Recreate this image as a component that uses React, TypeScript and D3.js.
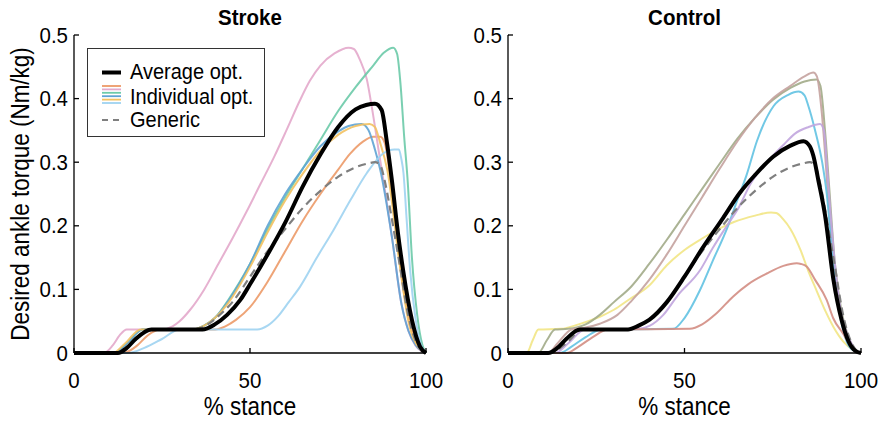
import React from 'react';
import * as d3 from 'd3';

type Pt = [number, number];

const STANCE_TICKS = [0, 50, 100];
const TORQUE_TICKS = [0, 0.1, 0.2, 0.3, 0.4, 0.5];
const TORQUE_TICK_LABELS = ['0', '0.1', '0.2', '0.3', '0.4', '0.5'];
const PANEL_TITLES = ['Stroke', 'Control'];
const LEGEND_LABELS = ['Average opt.', 'Individual opt.', 'Generic'];
const X_LABEL = '% stance';
const Y_LABEL = 'Desired ankle torque (Nm/kg)';

// Generic profile (same in both panels)
const genericProfile: Pt[] = [[0,0],[12,0],[17,0.018],[21,0.037],[34,0.037],[38,0.045],[41,0.058],[45,0.08],[50,0.12],[55,0.16],[60,0.195],[65,0.228],[70,0.255],[75,0.277],[80,0.292],[83.5,0.298],[85.5,0.3],[87,0.295],[88.5,0.265],[90,0.22],[92.5,0.14],[95,0.058],[97,0.02],[98.5,0.005],[100,0]];

// Stroke panel
const strokeAverage: Pt[] = [[0,0],[12.5,0],[15,0.008],[17.5,0.022],[22,0.037],[36.5,0.037],[40,0.045],[43.5,0.06],[47.2,0.083],[50,0.108],[55,0.155],[60,0.205],[65,0.262],[70,0.312],[75,0.355],[80,0.383],[83,0.39],[85.5,0.392],[87.4,0.382],[88.8,0.335],[90.3,0.272],[92,0.19],[93.5,0.13],[96,0.052],[98.3,0.01],[100,0]];
const strokeOrange: Pt[] = [[0,0],[14,0],[18,0.012],[21,0.028],[24.4,0.037],[40,0.037],[43,0.042],[46,0.052],[50,0.072],[55,0.112],[60,0.16],[65,0.208],[70,0.25],[72.7,0.271],[75,0.288],[78.4,0.313],[82,0.332],[85,0.34],[87,0.34],[88.3,0.33],[89.5,0.29],[91,0.22],[92.5,0.145],[94,0.085],[96,0.035],[98,0.008],[100,0]];
const strokePink: Pt[] = [[0,0],[8.5,0],[11,0.012],[13,0.028],[15,0.037],[25,0.037],[28,0.042],[30,0.05],[33,0.068],[37,0.1],[41,0.14],[45,0.18],[49,0.222],[53,0.266],[57,0.31],[60.5,0.352],[64,0.395],[67,0.428],[70,0.452],[74,0.471],[78,0.48],[79.5,0.478],[81.3,0.46],[83.2,0.43],[84.6,0.387],[86.5,0.32],[88.5,0.25],[90.3,0.183],[93,0.078],[95,0.035],[97,0.012],[100,0]];
const strokeGreen: Pt[] = [[0,0],[11.5,0],[15,0.015],[19.5,0.037],[33.8,0.037],[37,0.043],[40,0.055],[44,0.085],[50,0.14],[55,0.195],[60,0.245],[65,0.29],[70,0.335],[75,0.38],[80,0.418],[85,0.452],[88,0.472],[90.7,0.48],[91.8,0.47],[92.8,0.42],[93.8,0.34],[94.8,0.27],[96,0.15],[97.5,0.06],[99,0.012],[100,0]];
const strokeBlue: Pt[] = [[0,0],[11.5,0],[15,0.015],[19.5,0.037],[33.8,0.037],[37,0.043],[40,0.055],[44,0.083],[50,0.14],[55,0.2],[60,0.25],[65,0.29],[70,0.325],[75,0.348],[78,0.357],[81.7,0.36],[83.6,0.351],[85.5,0.32],[87,0.288],[90.3,0.183],[93,0.078],[95,0.035],[97,0.013],[100,0]];
const strokeYellow: Pt[] = [[0,0],[11,0],[14.5,0.015],[19,0.037],[33.5,0.037],[37,0.043],[40,0.055],[44,0.08],[50,0.135],[55,0.19],[60,0.24],[65,0.282],[70,0.318],[75,0.343],[80,0.357],[84,0.36],[85.5,0.355],[87,0.33],[89,0.288],[92.5,0.14],[95,0.05],[98,0.008],[100,0]];
const strokeLightBlue: Pt[] = [[0,0],[15.3,0],[20,0.008],[25,0.022],[30,0.037],[52,0.037],[55,0.043],[58,0.058],[61,0.08],[64.2,0.104],[69,0.15],[73.7,0.193],[78.5,0.24],[83.2,0.283],[87.9,0.314],[91,0.32],[92.3,0.32],[93,0.305],[93.6,0.283],[94.5,0.21],[95.5,0.13],[97,0.055],[98.5,0.014],[100,0]];

// Control panel
const controlAverage: Pt[] = [[0,0],[11.4,0],[14,0.008],[16.5,0.022],[20.4,0.037],[34,0.037],[37,0.043],[40,0.052],[45,0.08],[50,0.12],[55,0.164],[61,0.213],[65.7,0.252],[70,0.28],[75.2,0.309],[80,0.326],[83.7,0.333],[85.5,0.325],[86.5,0.31],[87.9,0.272],[89.8,0.217],[92.2,0.115],[94.5,0.052],[96.5,0.018],[98.5,0.003],[100,0]];
const controlYellow: Pt[] = [[0,0],[5.3,0],[7,0.02],[8.6,0.037],[15,0.038],[20,0.045],[26,0.057],[30,0.068],[34,0.083],[40,0.106],[45,0.138],[50,0.162],[55,0.18],[60,0.196],[64,0.206],[70,0.216],[74.5,0.221],[76,0.22],[78,0.21],[80,0.195],[83,0.16],[85,0.13],[87.5,0.097],[90,0.065],[92.2,0.041],[95,0.018],[97.8,0.005],[100,0]];
const controlOlive: Pt[] = [[0,0],[8.6,0],[11,0.02],[13.3,0.037],[17,0.038],[22,0.045],[26,0.06],[30,0.08],[35,0.105],[40,0.14],[45,0.178],[50,0.218],[55,0.258],[60,0.298],[65,0.337],[70,0.37],[75,0.398],[80,0.417],[84,0.427],[87.4,0.43],[88.5,0.42],[89.8,0.35],[91,0.26],[92.6,0.141],[94.5,0.065],[96.4,0.026],[98.5,0.005],[100,0]];
const controlBrown: Pt[] = [[0,0],[11.4,0],[14,0.015],[18,0.037],[22,0.04],[26,0.046],[31,0.06],[35,0.082],[40,0.115],[45,0.155],[50,0.2],[55,0.245],[60,0.29],[65,0.333],[70,0.37],[75,0.4],[80,0.42],[84,0.435],[86.5,0.441],[87.5,0.435],[88.9,0.377],[90,0.3],[91.2,0.2],[92.6,0.12],[94.5,0.055],[96.5,0.022],[98.5,0.004],[100,0]];
const controlCyan: Pt[] = [[0,0],[14.7,0],[18,0.01],[22,0.025],[26.5,0.037],[46.8,0.038],[50,0.055],[54.4,0.099],[58,0.145],[62,0.195],[64.8,0.238],[67.6,0.28],[70.5,0.333],[75.2,0.388],[79.4,0.406],[82.3,0.411],[84,0.405],[85,0.39],[87,0.35],[89,0.3],[90.3,0.25],[91.5,0.18],[93,0.1],[95,0.035],[97,0.008],[100,0]];
const controlPurple: Pt[] = [[0,0],[13.3,0],[17,0.015],[21.8,0.037],[37,0.038],[40.2,0.043],[44,0.06],[48,0.09],[54.4,0.13],[58,0.165],[62,0.2],[65.5,0.23],[68.6,0.265],[72,0.292],[75,0.31],[78,0.327],[81.3,0.345],[85,0.355],[88.4,0.36],[89.5,0.35],[90.3,0.298],[91.5,0.21],[92.6,0.141],[94.5,0.06],[96.4,0.026],[98.5,0.005],[100,0]];
const controlRed: Pt[] = [[0,0],[16.6,0],[20,0.01],[24,0.025],[28.3,0.037],[51.5,0.038],[55,0.045],[59,0.062],[63.8,0.089],[68,0.108],[73.3,0.125],[78,0.137],[81.8,0.141],[83,0.14],[84.6,0.136],[87,0.115],[90.3,0.083],[92.1,0.055],[95,0.03],[97,0.012],[98.8,0.003],[100,0]];

const STROKE_COLORS = ['#EC9A68', '#E3A9CB', '#6CCAA9', '#5EA3D4', '#F2C160', '#9FD3F1'];
const CONTROL_COLORS = ['#F2E685', '#A2AB88', '#C4A29E', '#62C2E2', '#C1A5DE', '#D38D83'];

const strokeIndividuals = [strokeOrange, strokePink, strokeGreen, strokeBlue, strokeYellow, strokeLightBlue];
const controlIndividuals = [controlYellow, controlOlive, controlBrown, controlCyan, controlPurple, controlRed];

const FONT = '"Liberation Sans", Arial, Helvetica, sans-serif';
const SY = 1.12;

const W = 882, H = 421;
const TOP = 35, BOTTOM = 353;

function Txt({ x, y, size, anchor = 'start', bold = false, rotate = 0, dy = 0, children }: any) {
  return (
    <text
      transform={`translate(${x},${y}) rotate(${rotate}) scale(1,${SY})`}
      x={0}
      y={dy}
      textAnchor={anchor}
      fontSize={size}
      fontWeight={bold ? 'bold' : 'normal'}
      fontFamily={FONT}
      fill="#000"
    >
      {children}
    </text>
  );
}

function Panel({ x0, x1, title, individuals, colors, average, legend }: any) {
  const x = d3.scaleLinear().domain([0, 100]).range([x0, x1]);
  const y = d3.scaleLinear().domain([0, 0.5]).range([BOTTOM, TOP]);
  const line = d3.line<Pt>().x(d => x(d[0])).y(d => y(d[1])).curve(d3.curveMonotoneX);
  const cx = (x0 + x1) / 2;
  return (
    <g>
      {individuals.map((s: Pt[], i: number) => (
        <path key={i} d={line(s) || ''} fill="none" stroke={colors[i]} strokeWidth={2} strokeOpacity={0.9} />
      ))}
      <path d={line(genericProfile) || ''} fill="none" stroke="#7f7f7f" strokeWidth={2.2} strokeDasharray="8,5" />
      <path d={line(average) || ''} fill="none" stroke="#000" strokeWidth={4} strokeLinejoin="round" />
      <line x1={x0} x2={x0} y1={TOP} y2={BOTTOM} stroke="#000" strokeWidth={1.3} />
      <line x1={x0} x2={x1} y1={BOTTOM} y2={BOTTOM} stroke="#000" strokeWidth={1.3} />
      {TORQUE_TICKS.map((t, i) => (
        <g key={'y' + i}>
          <line x1={x0} x2={x0 + 5} y1={y(t)} y2={y(t)} stroke="#000" strokeWidth={1.3} />
          <Txt x={x0 - 6} y={y(t) + 7.5} size={20.5} anchor="end">{TORQUE_TICK_LABELS[i]}</Txt>
        </g>
      ))}
      {STANCE_TICKS.map((t, i) => (
        <g key={'x' + i}>
          <line x1={x(t)} x2={x(t)} y1={BOTTOM} y2={BOTTOM - 5} stroke="#000" strokeWidth={1.3} />
          <Txt x={x(t)} y={BOTTOM + 35} size={20.5} anchor="middle">{String(t)}</Txt>
        </g>
      ))}
      <Txt x={cx} y={25} size={20.5} anchor="middle" bold>{title}</Txt>
      <Txt x={cx} y={415} size={22.5} anchor="middle">{X_LABEL}</Txt>
      {legend && (
        <g>
          <rect x={87.5} y={48.5} width={177} height={88} fill="#fff" stroke="#333" strokeWidth={1} />
          <line x1={102} x2={121} y1={72.5} y2={72.5} stroke="#000" strokeWidth={4} />
          <Txt x={130} y={79} size={20}>{LEGEND_LABELS[0]}</Txt>
          {STROKE_COLORS.map((c, i) => (
            <line key={i} x1={102} x2={121} y1={86 + i * 3.4} y2={86 + i * 3.4} stroke={c} strokeWidth={1.8} />
          ))}
          <Txt x={130} y={103.5} size={20}>{LEGEND_LABELS[1]}</Txt>
          <line x1={102} x2={121} y1={120} y2={120} stroke="#7f7f7f" strokeWidth={2.2} strokeDasharray="6,5" />
          <Txt x={130} y={127} size={20}>{LEGEND_LABELS[2]}</Txt>
        </g>
      )}
    </g>
  );
}

export default function App() {
  return (
    <svg width={W} height={H} style={{ position: 'absolute', left: 0, top: 0, background: '#fff' }}>
      <rect width={W} height={H} fill="#fff" />
      <Panel x0={74} x1={426} title={PANEL_TITLES[0]} individuals={strokeIndividuals} colors={STROKE_COLORS} average={strokeAverage} legend />
      <Panel x0={508} x1={861} title={PANEL_TITLES[1]} individuals={controlIndividuals} colors={CONTROL_COLORS} average={controlAverage} />
      <Txt x={29} y={194} size={22.5} anchor="middle" rotate={-90}>{Y_LABEL}</Txt>
    </svg>
  );
}
